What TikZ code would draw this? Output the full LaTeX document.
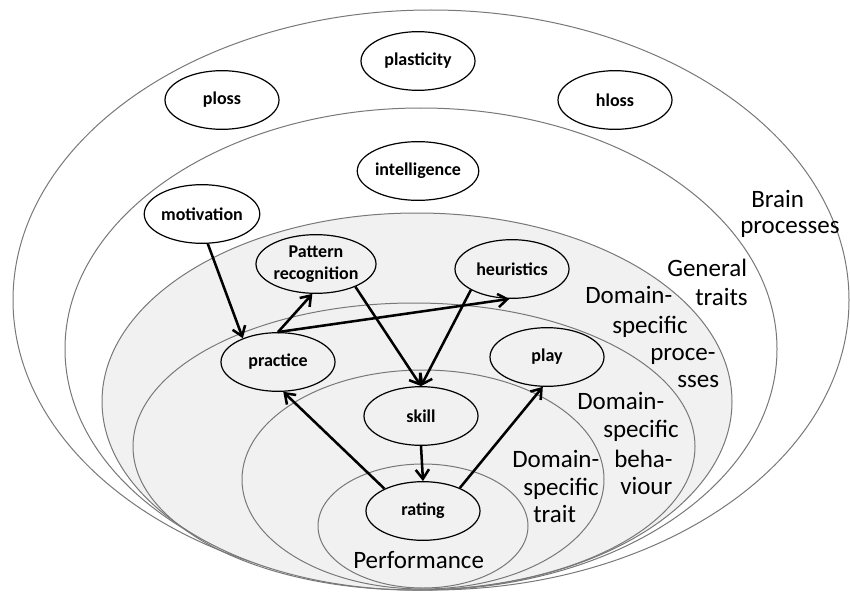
\documentclass[tikz,border=0pt]{standalone}
\usepackage{fontspec}
\setmainfont{Carlito}
\usetikzlibrary{arrows.meta,shapes.geometric}
\definecolor{ringgray}{RGB}{120,120,120}
\definecolor{fillgray}{RGB}{241,241,241}
\tikzset{
  ring/.style={draw=ringgray, line width=0.75pt},
  var/.style={ellipse, draw=black, line width=0.9pt, minimum width=85.5pt, minimum height=44pt,
    inner sep=0pt, font=\fontsize{13.5}{16.5}\selectfont\bfseries, align=center},
  arr/.style={line width=1.9pt, -{Straight Barb[length=7pt,width=10pt]}},
  region/.style={anchor=base west, inner sep=0pt, font=\fontsize{18.75}{22}\selectfont}
}
\begin{document}
\begin{tikzpicture}[x=0.75pt,y=-0.75pt]
\useasboundingbox (0,0) rectangle (850,592);
% nested regions
\draw[ring, fill=white] (431,300) ellipse [x radius=313.5pt, y radius=217.5pt];
\draw[ring, fill=white] (421,349) ellipse [x radius=267pt, y radius=180.75pt];
\draw[ring, fill=fillgray] (417,401.5) ellipse [x radius=236.25pt, y radius=141.375pt];
\draw[ring] (414,446.5) ellipse [x radius=210.75pt, y radius=107.625pt];
\draw[ring] (423,479.5) ellipse [x radius=135.75pt, y radius=82.125pt];
\draw[ring] (423,526) ellipse [x radius=78.75pt, y radius=46.5pt];

% variables
\node[var] (plasticity) at (418,61) {plasticity};
\node[var] (ploss) at (222,100) {ploss};
\node[var] (hloss) at (615,100) {hloss};
\node[var] (intelligence) at (418,171) {intelligence};
\node[var] (motivation) at (202,214) {motivation};
\node[var] (pattern) at (316,264) {Pattern\\recognition};
\node[var] (heuristics) at (512,269) {heuristics};
\node[var] (practice) at (278,362) {practice};
\node[var] (play) at (547,357) {play};
\node[var] (skill) at (421,416) {skill};
\node[var] (rating) at (423,511) {rating};

% connectors
\draw[arr] (motivation.-79) -- (practice.146);
\draw[arr] (practice.north) -- (pattern.-97);
\draw[arr] (practice.north) -- (heuristics.-95);
\draw[arr] (pattern.-30) -- (skill.north);
\draw[arr] (heuristics.-153) -- (skill.north);
\draw[arr] (skill.south) -- (rating.north);
\draw[arr] (rating.150) -- (practice.-80);
\draw[arr] (rating.32) -- (play.-98);

% region labels
\node[region] (bp1) at (751,207) {Brain};
\node[region] (bp2) at (740,233.5) {processes};
\node[region] (gt1) at (667,276) {General};
\node[region] (gt2) at (695,305) {traits};
\node[region] (dp1) at (585,303) {Domain-};
\node[region] (dp2) at (612,333) {specific};
\node[region] (dp3) at (650,360) {proce-};
\node[region] (dp4) at (677,387.5) {sses};
\node[region] (db1) at (577,409) {Domain-};
\node[region] (db2) at (603,437) {specific};
\node[region] (db3) at (614,467) {beha-};
\node[region] (db4) at (620,494) {viour};
\node[region] (dt1) at (512,467) {Domain-};
\node[region] (dt2) at (523,495) {specific};
\node[region] (dt3) at (533,522.5) {trait};
\node[region] (perf) at (353,568.5) {Performance};
\end{tikzpicture}
\end{document}
